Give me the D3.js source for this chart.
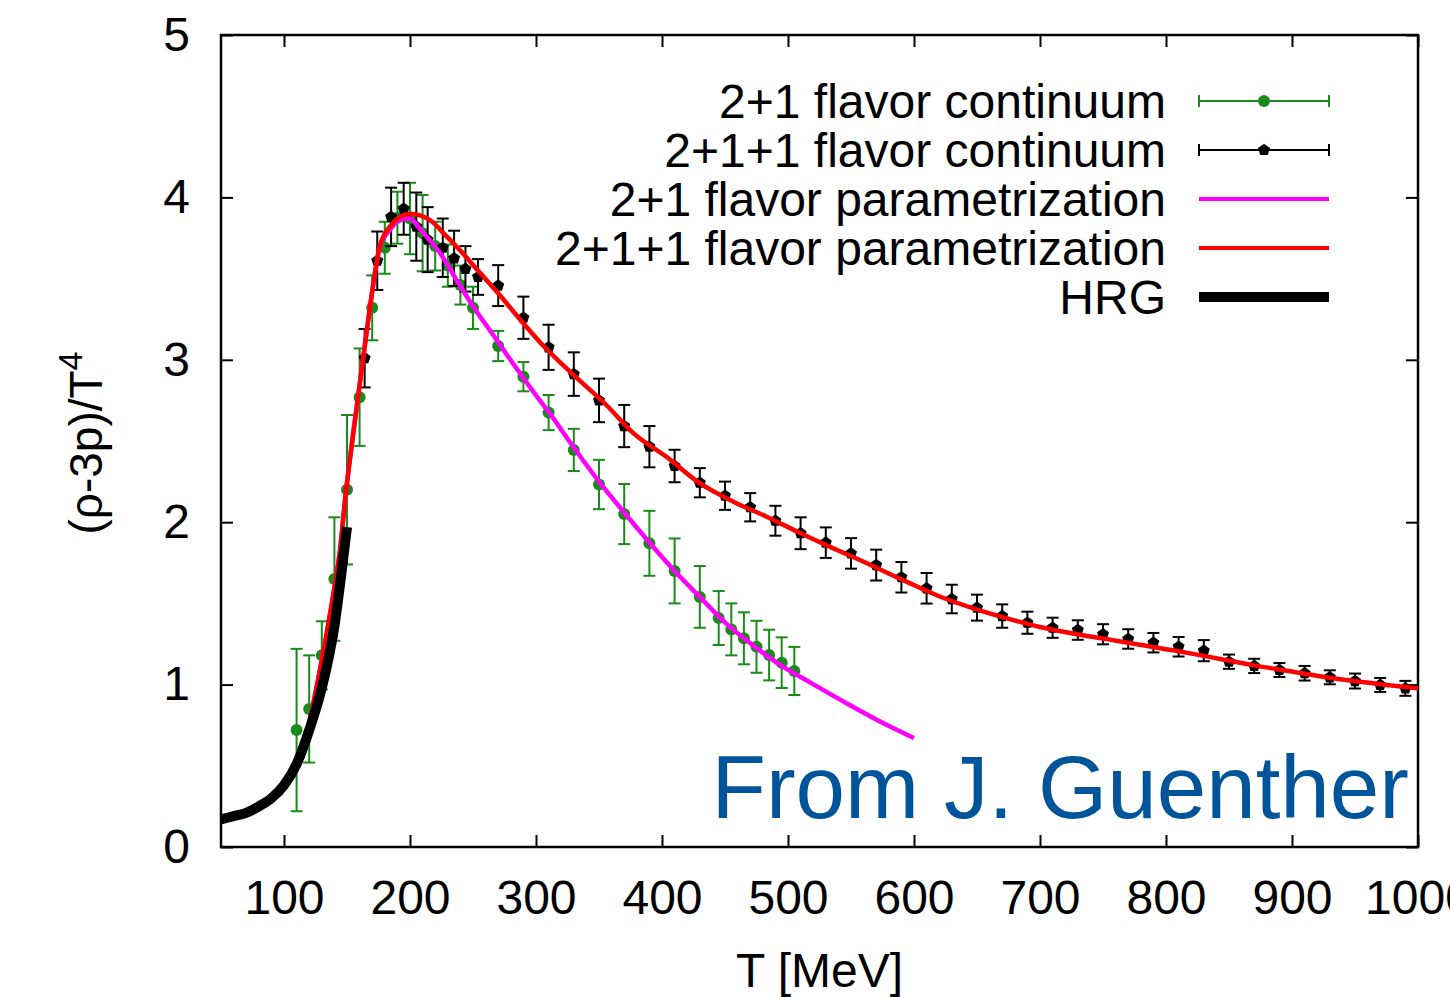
<!DOCTYPE html>
<html>
<head>
<meta charset="utf-8">
<script src="https://cdn.jsdelivr.net/npm/d3@7"></script>
<style>
  body { margin: 0; background: #fff; }
  text { font-family: "Liberation Sans", Arial, Helvetica, sans-serif; }
</style>
</head>
<body>
<div id="chart"></div>
<script>
// ---- data ----
// 2+1 flavor continuum (green)
var greenT = [110,120,130,140,150,160,170,180,190,200,210,220,230,240,250,270,290,310,330,350,370,390,410,430,445,455,465,475,485,495,505];
var greenY = [0.72,0.85,1.18,1.65,2.20,2.77,3.32,3.69,3.875,3.87,3.78,3.70,3.58,3.46,3.32,3.085,2.896,2.675,2.445,2.232,2.05,1.87,1.70,1.54,1.41,1.34,1.285,1.233,1.182,1.135,1.084];
var greenErr = [0.5,0.33,0.21,0.38,0.46,0.3,0.2,0.16,0.16,0.22,0.235,0.15,0.13,0.12,0.13,0.093,0.09,0.108,0.13,0.152,0.185,0.2,0.2,0.19,0.166,0.16,0.16,0.16,0.156,0.156,0.148];

// 2+1+1 flavor continuum (black)
var blackT = [164,174,185,195,205,214,226,235,244,254,270,290,310,330,350,370,390,410,430,450,470,490,510,530,550,570,590,610,630,650,670,690,710,730,750,770,790,810,830,850,870,890,910,930,950,970,990];
var blackY = [3.01,3.61,3.88,3.93,3.82,3.74,3.69,3.625,3.56,3.51,
  3.457,3.259,3.077,2.912,2.750,2.592,2.465,2.346,2.243,2.163,
  2.092,2.009,1.932,1.874,1.808,1.736,1.661,1.593,1.527,1.474,
  1.422,1.381,1.350,1.336,1.310,1.281,1.258,1.233,1.209,1.141,
  1.115,1.090,1.070,1.045,1.022,0.998,0.977];
var blackErr = [0.18,0.18,0.18,0.16,0.21,0.2,0.18,0.17,0.14,0.11,
  0.126,0.13,0.139,0.134,0.134,0.13,0.127,0.1,0.09,0.087,
  0.087,0.092,0.098,0.094,0.094,0.095,0.094,0.094,0.088,0.08,
  0.072,0.068,0.062,0.06,0.062,0.06,0.06,0.06,0.065,0.044,
  0.044,0.043,0.045,0.043,0.046,0.043,0.046];

// 2+1 flavor parametrization (magenta)
var magentaT = [115,125,134,140.5,144.5,148.5,155,163,168,176,184,192,199,210.6,224,237,250,269,277,287,303,310,330,350,370,390,410,430,451,472.5,494,515,525,550,575,600];
var magentaY = [0.58,0.95,1.32,1.62,1.83,2.14,2.55,3.02,3.31,3.69,3.80,3.86,3.87,3.78,3.656,3.49,3.33,3.12,3.03,2.92,2.75,2.68,2.46,2.25,2.06,1.875,1.70,1.54,1.375,1.24,1.12,1.025,0.98,0.87,0.765,0.671];

// 2+1+1 flavor parametrization (red)
var redT = [115,125,134,140.5,144.5,148.5,155,163,168,176,184,192,200,216,229,242,255,270,285,303,330,356,377,404,430,457,483,510,536,557,594,621,647,674,700,726,753,779,816,843,869,896,922,949,975,1000];
var redY = [0.58,0.95,1.32,1.62,1.83,2.14,2.55,3.02,3.31,3.70,3.82,3.88,3.90,3.86,3.76,3.655,3.54,3.41,3.27,3.11,2.905,2.72,2.55,2.40,2.24,2.125,2.034,1.932,1.839,1.767,1.634,1.541,1.47,1.408,1.355,1.315,1.28,1.245,1.197,1.158,1.12,1.085,1.052,1.022,0.998,0.977];

// hadron resonance gas
var hrgT = [50,60,70,80,90,100,110,120,130,140,145,150];
var hrgY = [0.17,0.19,0.21,0.25,0.30,0.38,0.51,0.72,0.98,1.36,1.65,1.97];

var xTicks = [100,200,300,400,500,600,700,800,900,1000];
var yTicks = [0,1,2,3,4,5];
var legendLabels = ["2+1 flavor continuum","2+1+1 flavor continuum","2+1 flavor parametrization","2+1+1 flavor parametrization","HRG"];
var legendColors = ["#1a8a1a","#000000","#ff00ff","#ff0000","#000000"];

// ---- layout ----
var margin = {top: 35, right: 32, bottom: 150, left: 221};
var width = 1450 - margin.left - margin.right;
var height = 997 - margin.top - margin.bottom;

var svgRoot = d3.select("#chart")
  .append("svg")
    .attr("width", 1450)
    .attr("height", 997);
var svg = svgRoot.append("g")
    .attr("transform", "translate(" + margin.left + "," + margin.top + ")");

var x = d3.scaleLinear().domain([50, 1000]).range([0, width]);
var y = d3.scaleLinear().domain([0, 5]).range([height, 0]);

// axes: ticks point inward on all four sides
svg.append("g")
  .attr("transform", "translate(0," + height + ")")
  .call(d3.axisBottom(x).tickValues(xTicks).tickFormat(d3.format("d"))
    .tickSizeInner(-12).tickSizeOuter(0).tickPadding(33));
svg.append("g")
  .call(d3.axisLeft(y).tickValues(yTicks).tickFormat(d3.format("d"))
    .tickSizeInner(-12).tickSizeOuter(0).tickPadding(31));
svg.append("g")
  .call(d3.axisTop(x).tickValues(xTicks).tickSizeInner(-12).tickSizeOuter(0).tickFormat(""));
svg.append("g")
  .attr("transform", "translate(" + width + ",0)")
  .call(d3.axisRight(y).tickValues(yTicks).tickSizeInner(-12).tickSizeOuter(0).tickFormat(""));

svg.selectAll(".domain").remove();
svg.selectAll(".tick line").attr("stroke", "#000").attr("stroke-width", 2);
svg.selectAll(".tick text")
  .attr("font-size", 48)
  .attr("fill", "#000")
  .style("font-family", "'Liberation Sans', Arial, Helvetica, sans-serif");

// frame
svg.append("rect")
  .attr("x", 0).attr("y", 0)
  .attr("width", width).attr("height", height)
  .attr("fill", "none")
  .attr("stroke", "#000")
  .attr("stroke-width", 2.5);

// axis labels
svgRoot.append("text")
  .attr("x", margin.left + width / 2)
  .attr("y", 987)
  .attr("text-anchor", "middle")
  .attr("font-size", 48)
  .text("T [MeV]");

var ylab = svgRoot.append("text")
  .attr("transform", "translate(102,443) rotate(-90)")
  .attr("text-anchor", "middle")
  .attr("font-size", 46);
ylab.append("tspan").text("(ρ-3p)/T");
ylab.append("tspan").attr("font-size", 34).attr("dy", -20).text("4");

// filled pentagon marker (gnuplot point type 15)
var pentagon = {
  draw: function(context, size) {
    var r = Math.sqrt(size / 2.378);
    for (var i = 0; i < 5; i++) {
      var a = -Math.PI / 2 + i * 2 * Math.PI / 5;
      if (i === 0) context.moveTo(r * Math.cos(a), r * Math.sin(a));
      else context.lineTo(r * Math.cos(a), r * Math.sin(a));
    }
    context.closePath();
  }
};

function drawErrorBars(g, T, Y, E, color) {
  var data = T.map(function(t, i) { return {t: t, v: Y[i], e: E[i]}; });
  var cap = 6;
  var bars = g.append("g").selectAll("g").data(data).enter().append("g")
    .attr("stroke", color).attr("stroke-width", 2).attr("fill", "none");
  bars.append("line")
    .attr("x1", function(d) { return x(d.t); }).attr("x2", function(d) { return x(d.t); })
    .attr("y1", function(d) { return y(d.v - d.e); }).attr("y2", function(d) { return y(d.v + d.e); });
  bars.append("line")
    .attr("x1", function(d) { return x(d.t) - cap; }).attr("x2", function(d) { return x(d.t) + cap; })
    .attr("y1", function(d) { return y(d.v + d.e); }).attr("y2", function(d) { return y(d.v + d.e); });
  bars.append("line")
    .attr("x1", function(d) { return x(d.t) - cap; }).attr("x2", function(d) { return x(d.t) + cap; })
    .attr("y1", function(d) { return y(d.v - d.e); }).attr("y2", function(d) { return y(d.v - d.e); });
  return data;
}

// green data
var gData = drawErrorBars(svg, greenT, greenY, greenErr, legendColors[0]);
svg.append("g").selectAll("circle").data(gData).enter().append("circle")
  .attr("cx", function(d) { return x(d.t); })
  .attr("cy", function(d) { return y(d.v); })
  .attr("r", 6)
  .attr("fill", legendColors[0]);

// black data
var bData = drawErrorBars(svg, blackT, blackY, blackErr, "#000");
svg.append("g").selectAll("path").data(bData).enter().append("path")
  .attr("transform", function(d) { return "translate(" + x(d.t) + "," + y(d.v) + ")"; })
  .attr("d", d3.symbol().type(pentagon).size(95))
  .attr("fill", "#000");

// curves
var line = d3.line()
  .x(function(d) { return x(d[0]); })
  .y(function(d) { return y(d[1]); })
  .curve(d3.curveMonotoneX);

function zip(a, b) { return a.map(function(v, i) { return [v, b[i]]; }); }

svg.append("path").datum(zip(magentaT, magentaY))
  .attr("d", line).attr("fill", "none").attr("stroke", "#ff00ff").attr("stroke-width", 4.5);
svg.append("path").datum(zip(redT, redY))
  .attr("d", line).attr("fill", "none").attr("stroke", "#ff0000").attr("stroke-width", 4.5);
svg.append("path").datum(zip(hrgT, hrgY))
  .attr("d", line).attr("fill", "none").attr("stroke", "#000").attr("stroke-width", 10);

// legend
var legend = svgRoot.append("g");
var rowY = function(i) { return 101 + i * 49; };
legend.selectAll("text").data(legendLabels).enter().append("text")
  .attr("x", 1166)
  .attr("y", function(d, i) { return rowY(i) + 17; })
  .attr("text-anchor", "end")
  .attr("font-size", 48)
  .text(function(d) { return d; });

legendLabels.forEach(function(lbl, i) {
  var yy = rowY(i);
  var g = legend.append("g");
  if (i < 2) {
    g.append("line").attr("x1", 1199).attr("x2", 1329).attr("y1", yy).attr("y2", yy)
      .attr("stroke", legendColors[i]).attr("stroke-width", 2);
    [1199, 1329].forEach(function(xx) {
      g.append("line").attr("x1", xx).attr("x2", xx).attr("y1", yy - 6).attr("y2", yy + 6)
        .attr("stroke", legendColors[i]).attr("stroke-width", 2);
    });
    if (i === 0) {
      g.append("circle").attr("cx", 1264).attr("cy", yy).attr("r", 6).attr("fill", legendColors[i]);
    } else {
      g.append("path").attr("transform", "translate(1264," + yy + ")")
        .attr("d", d3.symbol().type(pentagon).size(95)).attr("fill", "#000");
    }
  } else {
    g.append("line").attr("x1", 1199).attr("x2", 1329).attr("y1", yy).attr("y2", yy)
      .attr("stroke", legendColors[i]).attr("stroke-width", i === 4 ? 10 : 4);
  }
});

// credit
svgRoot.append("text")
  .attr("x", 1409)
  .attr("y", 818)
  .attr("text-anchor", "end")
  .attr("font-size", 89)
  .attr("fill", "#00559a")
  .text("From J. Guenther");
</script>
</body>
</html>
